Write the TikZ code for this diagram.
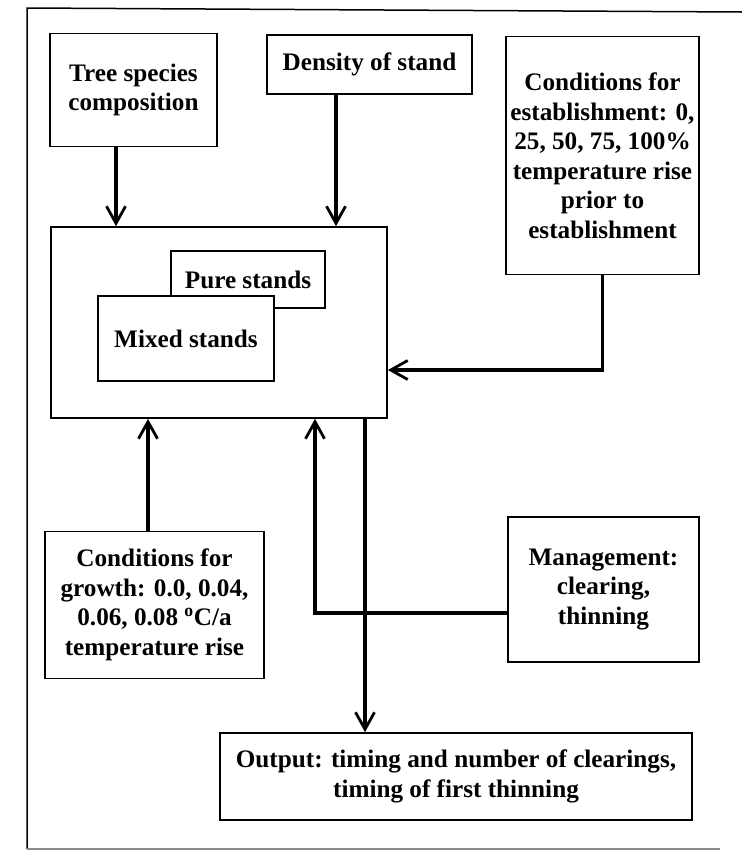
\documentclass[tikz,border=0pt]{standalone}
\usepackage{fontspec}
\setmainfont{Liberation Serif}
\usetikzlibrary{arrows.meta}
\begin{document}
\begin{tikzpicture}[x=1pt,y=-1pt,
  box/.style={draw,line width=1.7pt,fill=white,align=center,inner sep=0pt,
    font=\fontsize{25.2pt}{29.5pt}\selectfont\bfseries},
  arr/.style={line width=3.4pt,-{Straight Barb[length=17pt,width=19pt,line width=2.8pt]}},
  frame/.style={line width=1.5pt}]
\useasboundingbox (0,0) rectangle (742,852);
% outer frame
\draw[frame] (742,12) -- (27,8) -- (27,849);
\draw[line width=1.2pt,black!45] (27,849) -- (720,849);
% nodes
\node[box,minimum width=167pt,minimum height=113pt] (tree) at (133.5,90) {Tree species\\composition};
\node[box,minimum width=205pt,minimum height=59pt] (dens) at (369.5,64.5) {Density of stand};
\node[box,minimum width=193pt,minimum height=238pt] (est) at (602.5,155.5) {Conditions for\\establishment: 0,\\25, 50, 75, 100\%\\temperature rise\\prior to\\establishment};
\node[box,minimum width=336pt,minimum height=191pt] (main) at (219,322.5) {};
\node[box,minimum width=154pt,minimum height=57pt] (pure) at (248,279.5) {Pure stands};
\node[box,minimum width=176pt,minimum height=85pt] (mixed) at (186,338.5) {Mixed stands};
\node[box,minimum width=219pt,minimum height=147pt] (growth) at (154.5,605) {Conditions for\\growth: 0.0, 0.04,\\0.06, 0.08 \textsuperscript{o}C/a\\temperature rise};
\node[box,minimum width=191pt,minimum height=145pt] (mgmt) at (603.5,589.5) {Management:\\clearing,\\thinning};
\node[box,minimum width=472pt,minimum height=87pt] (out) at (456,776.5) {Output: timing and number of clearings,\\timing of first thinning};
% connectors
\draw[arr] ([xshift=-17.5pt]tree.south) -- ([xshift=-17.5pt]tree.south |- main.north);
\draw[arr] ([xshift=-33.5pt]dens.south) -- ([xshift=-33.5pt]dens.south |- main.north);
\draw[arr] (est.south) |- ([yshift=-47.5pt]main.east);
\draw[arr] ([xshift=-6.5pt]growth.north) -- ([xshift=-6.5pt]growth.north |- main.south);
\draw[arr] ([yshift=-23.5pt]mgmt.west) -| ([xshift=96pt]main.south);
\draw[arr] ([xshift=146pt]main.south) -- ([xshift=146pt]main.south |- out.north);
\end{tikzpicture}
\end{document}
